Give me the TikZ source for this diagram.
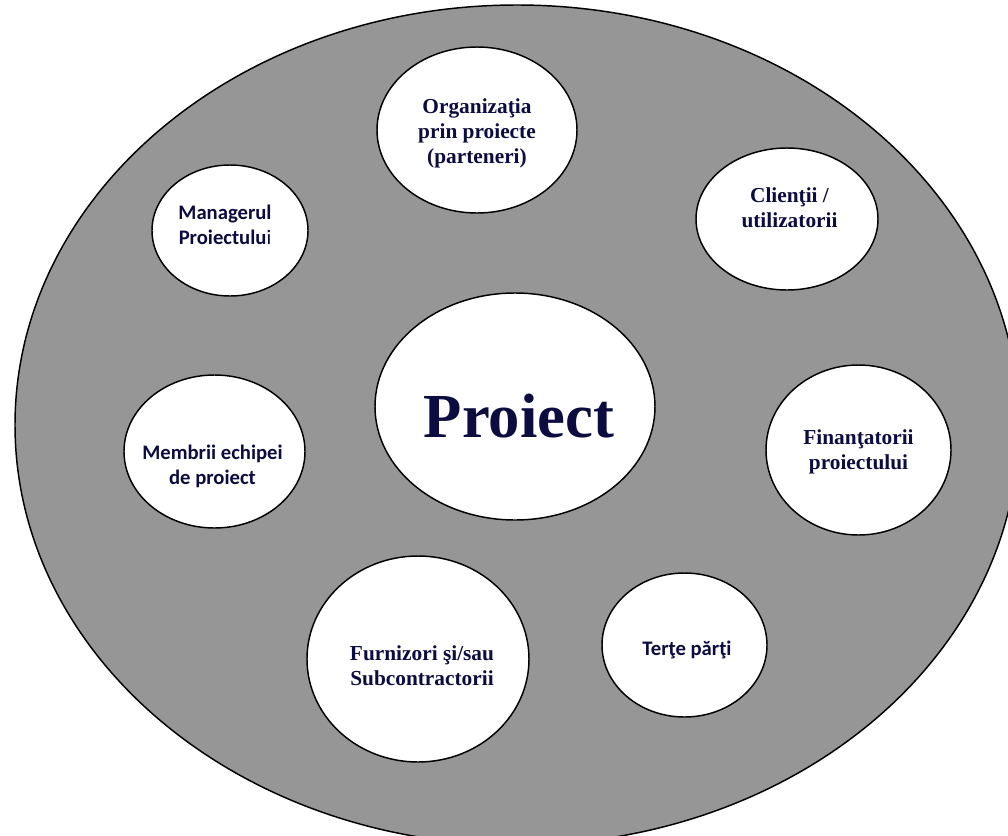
\documentclass[tikz,border=0pt]{standalone}
\usepackage{fontspec}
\usepackage{tikz}
\usetikzlibrary{shapes.geometric}
\newfontfamily\timesf{Liberation Serif}
\newfontfamily\calibf{Carlito}
\definecolor{fundal}{RGB}{150,150,150}
\definecolor{cerneala}{RGB}{12,12,64}

\begin{document}
\begin{tikzpicture}[line cap=round,line join=round,x=0.75pt,y=-0.75pt,
  bubble/.style={ellipse,draw=black,fill=white,line width=1.1pt,inner sep=0pt},
  serif/.style={align=center,inner sep=0pt,text=cerneala,font=\timesf\bfseries\fontsize{16}{18.75}\selectfont},
  sans/.style={align=center,inner sep=0pt,text=cerneala,font=\calibf\bfseries\fontsize{15.5}{18.75}\selectfont}]
\useasboundingbox (0,0) rectangle (1008,836);
\clip (0,0) rectangle (1008,836);
% fundalul
\node[ellipse,draw=black,fill=fundal,line width=1.1pt,minimum width=753pt,minimum height=630pt] (mediu) at (517,425) {};
% cercurile
\node[bubble,minimum width=150pt,minimum height=124.5pt] (org) at (477,130) {};
\node[bubble,minimum width=117pt,minimum height=98.25pt] (mgr) at (230,230.5) {};
\node[bubble,minimum width=136.5pt,minimum height=106.5pt] (cli) at (787,219) {};
\node[bubble,minimum width=138.75pt,minimum height=127.5pt] (fin) at (858.5,450) {};
\node[bubble,minimum width=135.75pt,minimum height=114.75pt] (mem) at (214.5,451.5) {};
\node[bubble,minimum width=166.5pt,minimum height=154.5pt] (fur) at (418,659) {};
\node[bubble,minimum width=123.75pt,minimum height=108pt] (ter) at (684.5,645) {};
\node[bubble,minimum width=210pt,minimum height=170.25pt] (pro) at (515,406.5) {};
% textele
\node[serif] (org-t) at (477,133) {Organizaţia\\prin proiecte\\(parteneri)};
\node[sans] (mgr-t) at (225,225) {Managerul\\{Proiectulu\mdseries i}};
\node[serif] (cli-t) at (789.5,207.5) {Clienţii /\\utilizatorii};
\node[serif] (fin-t) at (858.5,452) {Finanţatorii\\proiectului};
\node[sans] (mem-t) at (212.5,466) {Membrii echipei\\de proiect};
\node[serif] (fur-t) at (422,665.5) {Furnizori şi/sau\\Subcontractorii};
\node[sans,anchor=base] (ter-t) at (687,655) {Terţe părţi};
\node[anchor=base,inner sep=0pt,text=cerneala,font=\timesf\bfseries\fontsize{47}{56}\selectfont] (pro-t) at (519,437) {Proiect};
\end{tikzpicture}
\end{document}
